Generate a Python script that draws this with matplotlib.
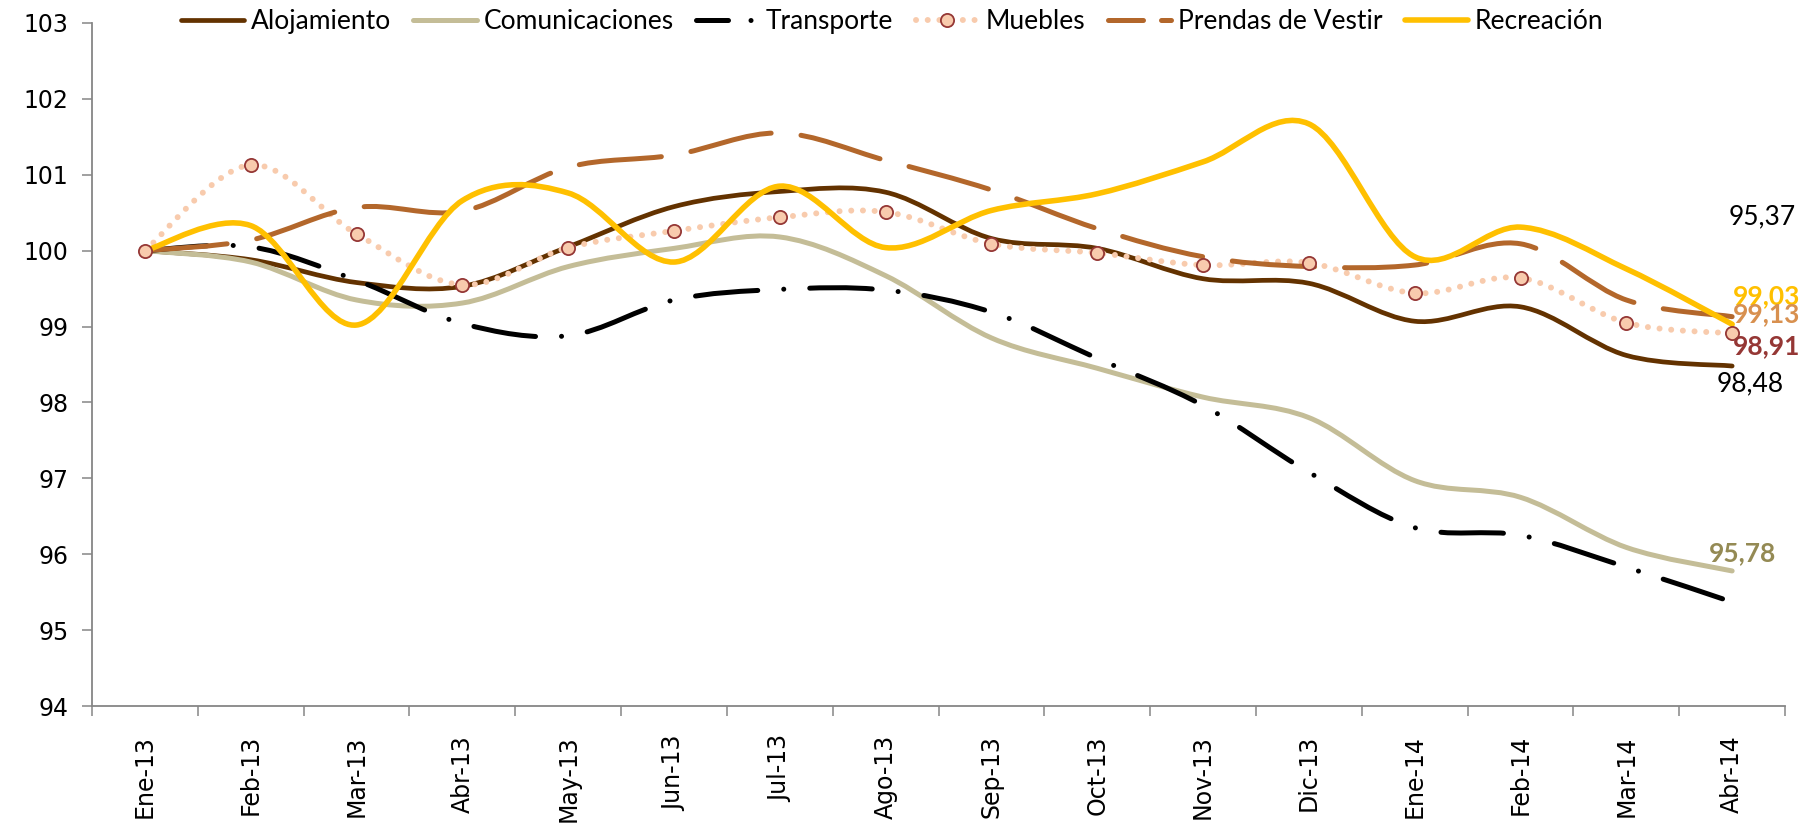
import numpy as np
import matplotlib.pyplot as plt
from matplotlib.path import Path
from matplotlib.patches import PathPatch
from matplotlib.lines import Line2D

# Indices por rubro (base Ene-13 = 100)
meses = ['Ene-13', 'Feb-13', 'Mar-13', 'Abr-13', 'May-13', 'Jun-13', 'Jul-13', 'Ago-13',
         'Sep-13', 'Oct-13', 'Nov-13', 'Dic-13', 'Ene-14', 'Feb-14', 'Mar-14', 'Abr-14']

alojamiento = [100.00, 99.88, 99.58, 99.53, 100.05, 100.58, 100.78, 100.77,
               100.16, 100.03, 99.63, 99.57, 99.07, 99.26, 98.62, 98.48]
comunicaciones = [100.00, 99.85, 99.35, 99.31, 99.79, 100.03, 100.18, 99.67,
                  98.85, 98.45, 98.07, 97.80, 96.97, 96.75, 96.09, 95.78]
transporte = [100.00, 100.05, 99.61, 99.04, 98.88, 99.35, 99.49, 99.48,
              99.19, 98.58, 97.96, 97.08, 96.35, 96.25, 95.83, 95.37]
muebles = [100.00, 101.13, 100.22, 99.55, 100.04, 100.26, 100.44, 100.51,
           100.09, 99.97, 99.81, 99.84, 99.44, 99.64, 99.05, 98.91]
prendas = [100.00, 100.14, 100.57, 100.52, 101.10, 101.26, 101.55, 101.19,
           100.80, 100.29, 99.92, 99.79, 99.81, 100.09, 99.35, 99.13]
recreacion = [100.00, 100.33, 99.02, 100.66, 100.76, 99.85, 100.85, 100.04,
              100.53, 100.75, 101.17, 101.67, 99.92, 100.31, 99.76, 99.03]

etiquetas_fin = ['95,37', '99,03', '99,13', '98,91', '98,48', '95,78']


def curva_suave(y):
    # curva tipo Excel "linea suavizada" (bezier con puntos vecinos)
    pts = np.column_stack([np.arange(len(y)), y]).astype(float)
    ext = np.vstack([pts[0], pts, pts[-1]])
    verts = [pts[0]]
    codes = [Path.MOVETO]
    for i in range(len(pts) - 1):
        p0, p1, p2, p3 = ext[i], ext[i + 1], ext[i + 2], ext[i + 3]
        verts += [p1 + (p2 - p0) / 6, p2 - (p3 - p1) / 6, p2]
        codes += [Path.CURVE4] * 3
    return Path(verts, codes)


fig = plt.figure(figsize=(18.04, 8.32), dpi=100)
ax = fig.add_axes([0.051, 0.1514, 0.9385, 0.821])

# (nombre, serie, color, ancho, estilo de linea, estilo en la leyenda)
estilos = [
    ('Alojamiento', alojamiento, '#633200', 3.4, '-', '-'),
    ('Comunicaciones', comunicaciones, '#C4BD97', 3.6, '-', '-'),
    ('Transporte', transporte, 'black', 3.6, (0, (12.5, 5.2, 0.01, 5.2)), (0, (6.4, 4.5, 0.01, 10))),
    ('Muebles', muebles, '#F8CBAD', 4.3, (0, (0.01, 1.95)), (0, (0.01, 1.95))),
    ('Prendas de Vestir', prendas, '#B3672B', 3.6, (0, (16.5, 6.0)), (0, (7.0, 3.6))),
    ('Recreación', recreacion, '#FFC000', 4.0, '-', '-'),
]

handles = []
for nombre, serie, col, lw, ls, ls_leg in estilos:
    patch = PathPatch(curva_suave(serie), fill=False, edgecolor=col,
                      linewidth=lw, linestyle=ls, capstyle='round', zorder=3)
    ax.add_patch(patch)
    if nombre == 'Muebles':
        ax.plot(range(len(serie)), serie, ls='none', marker='o', ms=9.5,
                mfc='#F8CBAD', mec='#953735', mew=1.3, zorder=4)
        h = Line2D([], [], color=col, lw=lw, ls=ls_leg, marker='o',
                   ms=9.5, mfc='#F8CBAD', mec='#953735', mew=1.3,
                   dash_capstyle='round')
    else:
        h = Line2D([], [], color=col, lw=lw, ls=ls_leg,
                   dash_capstyle='round', solid_capstyle='round')
    handles.append(h)

ax.set_xlim(-0.5, 15.5)
ax.set_ylim(94, 103)

gris = '#868686'
for s in ['top', 'right']:
    ax.spines[s].set_visible(False)
for s in ['left', 'bottom']:
    ax.spines[s].set_color(gris)
    ax.spines[s].set_linewidth(1.3)

ax.set_yticks(range(94, 104))
ax.tick_params(axis='y', direction='out', length=7, width=1.1, color=gris,
               labelsize=17, pad=10)
ax.set_xticks(np.arange(-0.5, 16, 1))
ax.set_xticklabels([])
ax.tick_params(axis='x', which='major', direction='out', length=7, width=1.1, color=gris)
ax.set_xticks(range(len(meses)), minor=True)
ax.set_xticklabels(meses, minor=True, rotation=90, fontsize=17)
ax.tick_params(axis='x', which='minor', length=0, pad=21)

leg = ax.legend(handles, [e[0] for e in estilos], loc='center', bbox_to_anchor=(0.4725, 1.002),
                ncol=6, frameon=False, prop={'family': 'Lato', 'size': 19},
                handlelength=2.4, handletextpad=0.25, columnspacing=0.85)

# etiquetas de valor al final de cada serie
ultimo = len(meses) - 1
fin = [
    (etiquetas_fin[0], transporte[-1], 30, 385, 'black', 'normal'),
    (etiquetas_fin[1], recreacion[-1], 34, 28, '#FFC000', 'bold'),
    (etiquetas_fin[2], prendas[-1], 34, 3, '#D8904F', 'bold'),
    (etiquetas_fin[3], muebles[-1], 34, -13, '#953735', 'bold'),
    (etiquetas_fin[4], alojamiento[-1], 18, -18, 'black', 'normal'),
    (etiquetas_fin[5], comunicaciones[-1], 10, 18, '#948A54', 'bold'),
]
for txt, val, dx, dy, col, peso in fin:
    ax.annotate(txt, xy=(ultimo, val), xytext=(dx, dy), textcoords='offset pixels',
                ha='center', va='center', color=col, fontweight=peso,
                family='Lato', fontsize=19, zorder=5, annotation_clip=False)

fig.savefig('out.png', dpi=100)
